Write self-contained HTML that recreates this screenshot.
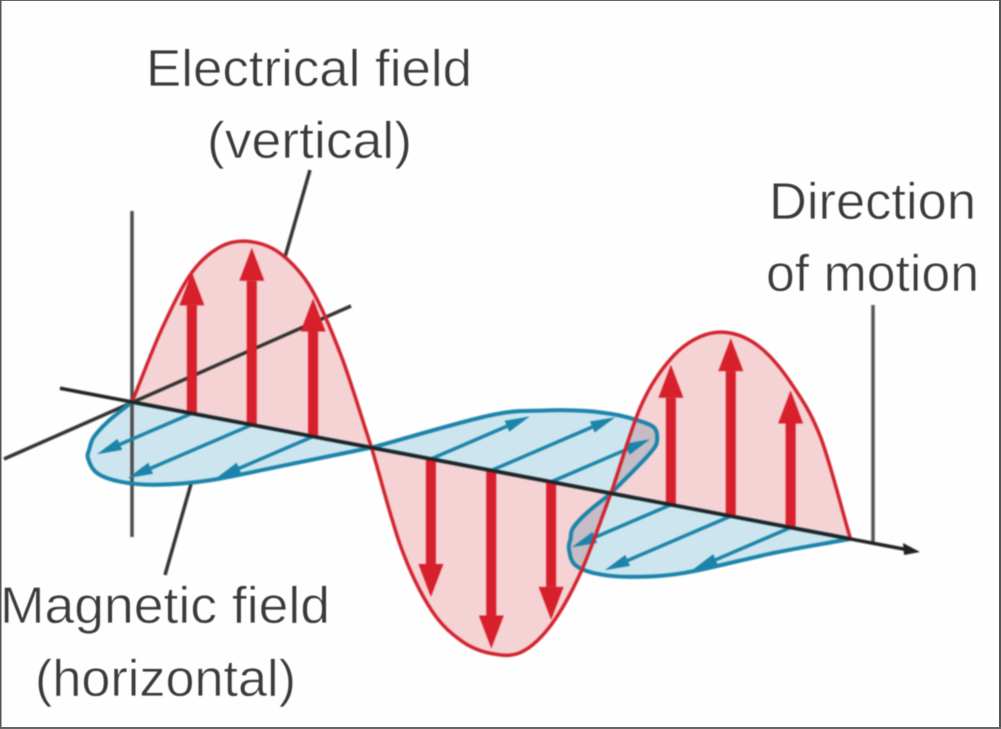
<!DOCTYPE html>
<html lang="en">
<head>
<meta charset="utf-8">
<title>Electromagnetic wave diagram</title>
<style>
html,body{margin:0;padding:0;background:#fff;width:1001px;height:729px;overflow:hidden}
svg{display:block}
text{font-family:"Liberation Sans",sans-serif;font-size:52px;fill:#3a3a3a;stroke:#fff;stroke-width:0.7px}
</style>
</head>
<body>
<svg id="chart" width="1001" height="729" viewBox="0 0 1001 729" xmlns="http://www.w3.org/2000/svg">
  <rect x="0" y="0" width="1001" height="729" fill="#fefefe"/>
  <g id="scene" style="filter:blur(0.7px)"></g>
  <g style="filter:blur(0.6px)">
    <text x="146" y="86" textLength="326" lengthAdjust="spacingAndGlyphs">Electrical field</text>
    <text x="207" y="158" textLength="205" lengthAdjust="spacingAndGlyphs">(vertical)</text>
    <text x="769" y="219" textLength="207" lengthAdjust="spacingAndGlyphs">Direction</text>
    <text x="766" y="291" textLength="213" lengthAdjust="spacingAndGlyphs">of motion</text>
    <text x="0" y="623" textLength="330" lengthAdjust="spacingAndGlyphs">Magnetic field</text>
    <text x="35" y="696" textLength="261" lengthAdjust="spacingAndGlyphs">(horizontal)</text>
  </g>
  <rect x="0" y="0" width="1001" height="1" fill="#666"/>
  <rect x="0" y="0" width="1.5" height="729" fill="#555"/>
  <rect x="999" y="0" width="2" height="729" fill="#555"/>
  <rect x="0" y="727" width="1001" height="2" fill="#666"/>
</svg>
<script>
// Wave data: phase is measured in half-wavelengths along the direction of motion.
const electricLobe1Phase = [0, 0.125, 0.25, 0.375, 0.5, 0.625, 0.75, 0.875, 1];
const electricLobe1Value = [0, 79, 141, 173, 183, 176, 147, 85, 0];
const electricLobe2Phase = [1, 1.125, 1.25, 1.375, 1.5, 1.625, 1.75, 1.875, 2];
const electricLobe2Value = [0, -95, -151, -176, -183, -176, -143, -84, 0];
const electricLobe3Phase = [2, 2.125, 2.25, 2.375, 2.5, 2.625, 2.75, 2.875, 3];
const electricLobe3Value = [0, 93, 146, 174, 183, 174, 145, 96, 0];

const magneticLobe1Phase = [0, 0.06, 0.125, 0.19, 0.25, 0.375, 0.5, 0.625, 0.75, 0.875, 1];
const magneticLobe1Value = [0, 38, 68, 88, 104, 125, 132, 126, 103, 52, 0];
const magneticLobe2Phase = [1, 1.125, 1.25, 1.375, 1.5, 1.625, 1.69, 1.75, 1.81, 1.875, 2];
const magneticLobe2Value = [0, -88, -113, -125, -128, -124, -118, -106, -90, -62, 0];
const magneticLobe3Phase = [2, 2.06, 2.125, 2.19, 2.25, 2.375, 2.5, 2.625, 2.75, 2.875, 3];
const magneticLobe3Value = [0, 38, 68, 86, 102, 126, 134, 128, 105, 45, 0];

const electricVectorPhase = [0.25, 0.5, 0.756, 1.248, 1.5, 1.75, 2.25, 2.5, 2.75];
const electricVectorValue = [141, 177, 138, -138, -178, -138, 140, 178, 137];
const magneticVectorPhase = [0.25, 0.5, 0.756, 1.248, 1.5, 1.75, 2.25, 2.5, 2.75];
const magneticVectorValue = [95, 124, 97, -99, -124, -99, 99, 126, 98];

// Axis functions
const originX = 132, originY = 402, halfWave = 239.5, axisSlope = 0.1906, skew = 0.43;
function xAt(phase){ return originX + halfWave * phase; }
function axisY(x){ return originY + axisSlope * (x - originX); }
function electricPoint(phase, value){ const x = xAt(phase); return [x, axisY(x) - value]; }
function magneticPoint(phase, value){ const x = xAt(phase); return [x - value, axisY(x) + skew * value]; }

const SVGNS = 'http://www.w3.org/2000/svg';
const scene = document.getElementById('scene');
function make(tag, attrs){
  const el = document.createElementNS(SVGNS, tag);
  for (const k in attrs) el.setAttribute(k, attrs[k]);
  return el;
}
function smoothPath(pts){
  const n = pts.length;
  const first = [2 * pts[0][0] - pts[1][0], 2 * pts[0][1] - pts[1][1]];
  const last = [2 * pts[n - 1][0] - pts[n - 2][0], 2 * pts[n - 1][1] - pts[n - 2][1]];
  let d = 'M' + pts[0][0].toFixed(1) + ' ' + pts[0][1].toFixed(1);
  for (let i = 0; i < n - 1; i++){
    const p0 = i === 0 ? first : pts[i - 1], p1 = pts[i], p2 = pts[i + 1], p3 = i + 2 < n ? pts[i + 2] : last;
    const c1 = [p1[0] + (p2[0] - p0[0]) / 6, p1[1] + (p2[1] - p0[1]) / 6];
    const c2 = [p2[0] - (p3[0] - p1[0]) / 6, p2[1] - (p3[1] - p1[1]) / 6];
    d += 'C' + c1[0].toFixed(1) + ' ' + c1[1].toFixed(1) + ' ' + c2[0].toFixed(1) + ' ' + c2[1].toFixed(1) + ' ' + p2[0].toFixed(1) + ' ' + p2[1].toFixed(1);
  }
  return d;
}
function polyStr(points){ return points.map(p => p[0].toFixed(1) + ',' + p[1].toFixed(1)).join(' '); }

const electricLobes = [[electricLobe1Phase, electricLobe1Value], [electricLobe2Phase, electricLobe2Value], [electricLobe3Phase, electricLobe3Value]];
const magneticLobes = [[magneticLobe1Phase, magneticLobe1Value], [magneticLobe2Phase, magneticLobe2Value], [magneticLobe3Phase, magneticLobe3Value]];

// Lobe fills
electricLobes.forEach(function(lobe){
  const pts = lobe[0].map((p, i) => electricPoint(p, lobe[1][i]));
  const el = make('path', {d: smoothPath(pts) + 'Z', fill: '#f5d2d3', style: 'mix-blend-mode:multiply'});
  
  
  scene.appendChild(el);
});
magneticLobes.forEach(function(lobe){
  const pts = lobe[0].map((p, i) => magneticPoint(p, lobe[1][i]));
  const el = make('path', {d: smoothPath(pts) + 'Z', fill: '#cde5ee', style: 'mix-blend-mode:multiply'});
  
  
  scene.appendChild(el);
});

// Reference lines
const refVertical = make('line', {x1: 132, y1: 211, x2: 132, y2: 537, stroke: '#4a4a4a', 'stroke-width': 3.5});


scene.appendChild(refVertical);
const refDiagonal = make('line', {x1: 4, y1: 459, x2: 351, y2: 306, stroke: '#333', 'stroke-width': 3.5});


scene.appendChild(refDiagonal);
const leaderElectric = make('line', {x1: 310, y1: 170, x2: 285, y2: 257, stroke: '#333', 'stroke-width': 3.5});


scene.appendChild(leaderElectric);
const leaderMagnetic = make('line', {x1: 191, y1: 484, x2: 165, y2: 575, stroke: '#333', 'stroke-width': 3.5});


scene.appendChild(leaderMagnetic);
const leaderMotion = make('line', {x1: 873, y1: 305, x2: 873, y2: 542, stroke: '#555', 'stroke-width': 3.5});


scene.appendChild(leaderMotion);

// Magnetic vectors
magneticVectorPhase.forEach(function(phase, i){
  const v = magneticVectorValue[i];
  const base = magneticPoint(phase, 0), tip = magneticPoint(phase, v);
  const len = Math.hypot(tip[0] - base[0], tip[1] - base[1]);
  const ux = (tip[0] - base[0]) / len, uy = (tip[1] - base[1]) / len;
  const neck = [tip[0] - ux * 25, tip[1] - uy * 25];
  const shaft = make('line', {x1: base[0], y1: base[1], x2: neck[0], y2: neck[1], stroke: '#1b84aa', 'stroke-width': 3.5});
  
  
  scene.appendChild(shaft);
  const head = make('polygon', {points: polyStr([tip, [neck[0] - uy * 6, neck[1] + ux * 6], [neck[0] + uy * 6, neck[1] - ux * 6]]), fill: '#1b84aa'});
  
  
  scene.appendChild(head);
});

// Lobe outlines
magneticLobes.forEach(function(lobe){
  const pts = lobe[0].map((p, i) => magneticPoint(p, lobe[1][i]));
  const el = make('path', {d: smoothPath(pts) + 'Z', fill: 'none', stroke: '#1b84aa', 'stroke-width': 4});
  
  
  scene.appendChild(el);
});

// Electric vectors
electricVectorPhase.forEach(function(phase, i){
  const v = electricVectorValue[i];
  const base = electricPoint(phase, 0), tip = electricPoint(phase, v);
  const dir = v > 0 ? 1 : -1;
  const neckY = tip[1] + dir * 33;
  const shaft = make('line', {x1: base[0], y1: base[1], x2: base[0], y2: neckY, stroke: '#d81f2c', 'stroke-width': 10});
  
  
  scene.appendChild(shaft);
  const head = make('polygon', {points: polyStr([tip, [tip[0] - 12.5, neckY], [tip[0] + 12.5, neckY]]), fill: '#d81f2c'});
  
  
  scene.appendChild(head);
});

electricLobes.forEach(function(lobe){
  const pts = lobe[0].map((p, i) => electricPoint(p, lobe[1][i]));
  const el = make('path', {d: smoothPath(pts), fill: 'none', stroke: '#d2232f', 'stroke-width': 3.5});
  
  
  scene.appendChild(el);
});

// Direction of motion axis
const motionStartX = 60, motionEndX = 905;
const motionLine = make('line', {x1: motionStartX, y1: axisY(motionStartX), x2: motionEndX, y2: axisY(motionEndX), stroke: '#222', 'stroke-width': 3.5});


scene.appendChild(motionLine);
const motionHead = make('polygon', {points: polyStr([[920, 552], [903, 543], [904, 555]]), fill: '#222'});


scene.appendChild(motionHead);
</script>
</body>
</html>
